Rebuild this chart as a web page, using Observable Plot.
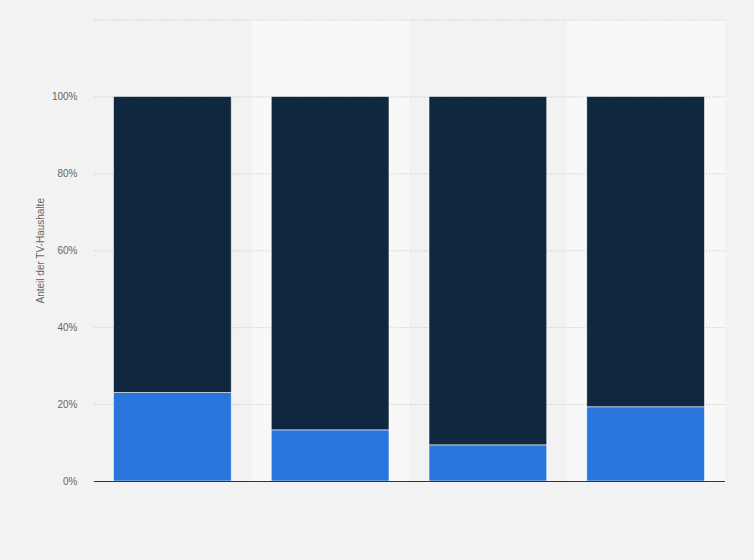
<!DOCTYPE html>
<html>
<head>
<meta charset="utf-8">
<script src="https://cdn.jsdelivr.net/npm/d3@7"></script>
<script src="https://cdn.jsdelivr.net/npm/@observablehq/plot@0.6"></script>
<style>
  html, body { margin: 0; padding: 0; background: #f2f2f2; }
  #chart svg { display: block; }
</style>
</head>
<body>
<div id="chart"></div>
<script>
const categories = ["Gruppe 1", "Gruppe 2", "Gruppe 3", "Gruppe 4"];
const seriesNames = ["Anteil A", "Anteil B"];
const valuesA = [23, 13.3, 9.4, 19.3];
const valuesB = [77, 86.7, 90.6, 80.7];
const yTicks = [0, 20, 40, 60, 80, 100];
const gridLines = [20, 40, 60, 80, 100, 120];
const shadedCategories = [categories[1], categories[3]];

const colors = ["#2876dd", "#0f283f"];

const data = [];
categories.forEach((c, i) => {
  data.push({category: c, series: seriesNames[0], value: valuesA[i]});
  data.push({category: c, series: seriesNames[1], value: valuesB[i]});
});

const chart = Plot.plot({
  width: 754,
  height: 560,
  marginLeft: 94,
  marginRight: 29,
  marginTop: 19.5,
  marginBottom: 79,
  style: {background: "#f2f2f2", fontFamily: "'Liberation Sans', Arial, sans-serif", fontSize: "10px", color: "#666"},
  x: {domain: categories, padding: 0, round: false, axis: null},
  y: {domain: [0, 120], axis: null},
  color: {domain: seriesNames, range: colors},
  marks: [
    Plot.barY(shadedCategories, {x: d => d, y1: 0, y2: 120, fill: "#f8f8f8"}),
    Plot.ruleY(gridLines, {stroke: "#cfcfcf", strokeDasharray: "1.5,1.5", strokeWidth: 1}),
    Plot.barY(data, Plot.stackY({
      x: "category", y: "value", fill: "series",
      order: seriesNames,
      insetLeft: 19.5, insetRight: 20.5,
      stroke: "#ffffff", strokeWidth: 0.8, strokeOpacity: 0.7
    })),
    Plot.ruleY([0], {stroke: "#333", strokeWidth: 1}),
    Plot.axisY({
      ticks: yTicks, tickFormat: d => d + "%", tickSize: 0, tickPadding: 17,
      label: "Anteil der TV-Haushalte", labelAnchor: "center", labelArrow: "none",
      labelOffset: 58, fill: "#666", fontSize: 10
    })
  ]
});

document.getElementById("chart").appendChild(chart);
</script>
</body>
</html>
